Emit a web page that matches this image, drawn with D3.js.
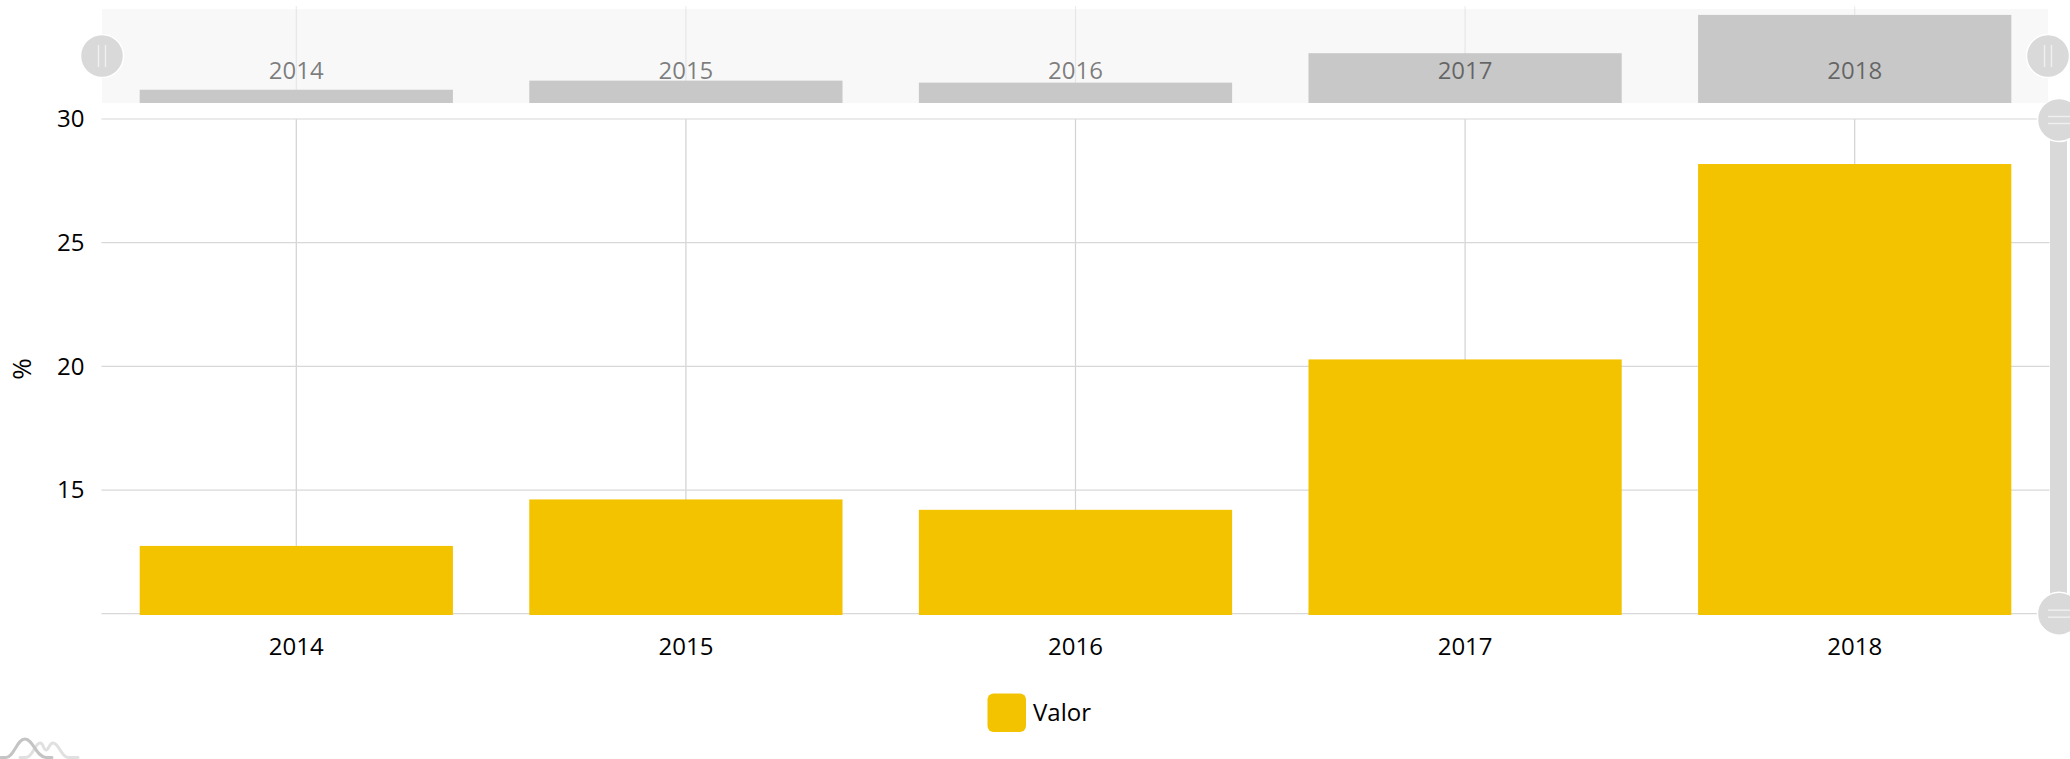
<!DOCTYPE html>
<html>
<head>
<meta charset="utf-8">
<script src="https://cdn.jsdelivr.net/npm/d3@7"></script>
<style>
  html, body { margin: 0; padding: 0; background: #fff; overflow: hidden; }
  text { font-family: "Open Sans", sans-serif; font-size: 24px; }
</style>
</head>
<body>
<div id="chart"></div>
<script>
// chart data
var years = ["2014", "2015", "2016", "2017", "2018"];
var valor = [12.74, 14.62, 14.2, 20.28, 28.18];
var yTicks = [15, 20, 25, 30];
var yLabel = "%";
var seriesName = "Valor";

var svgWidth = 2070;
var svgHeight = 759;

var plot = { left: 101.5, right: 2049.5, top: 119, bottom: 613.7 };
var mini = { top: 9, bottom: 103 };

var barColor = "#f4c300";
var gridColor = "#d8d8d8";
var handleColor = "#d9d9d9";

var svg = d3.select("#chart")
    .append("svg")
    .attr("width", svgWidth)
    .attr("height", svgHeight)
    .style("display", "block");

var x = d3.scaleBand()
    .domain(years)
    .range([plot.left, plot.right])
    .paddingInner(0.196)
    .paddingOuter(0.098);

var y = d3.scaleLinear()
    .domain([10, 30])
    .range([plot.bottom, plot.top]);

var yMini = d3.scaleLinear()
    .domain([10, 29.4])
    .range([mini.bottom, mini.top]);

function center(d) {
    return x(d) + x.bandwidth() / 2;
}

// gridlines
svg.append("g").selectAll("line")
    .data(years)
    .join("line")
    .attr("x1", center)
    .attr("x2", center)
    .attr("y1", plot.top)
    .attr("y2", plot.bottom)
    .attr("stroke", "#d2d2d2")
    .attr("stroke-width", 1.2);

svg.append("g").selectAll("line")
    .data(yTicks.concat([10]))
    .join("line")
    .attr("x1", plot.left)
    .attr("x2", plot.right)
    .attr("y1", function(d) { return y(d); })
    .attr("y2", function(d) { return y(d); })
    .attr("stroke", gridColor)
    .attr("stroke-width", 1.2);

// main bars
svg.append("g").selectAll("rect")
    .data(valor)
    .join("rect")
    .attr("x", function(d, i) { return x(years[i]); })
    .attr("y", function(d) { return y(d); })
    .attr("width", x.bandwidth())
    .attr("height", function(d) { return y(10) - y(d) + 1.3; })
    .attr("fill", barColor);

// axes
var xAxis = svg.append("g")
    .attr("transform", "translate(0," + plot.bottom + ")")
    .call(d3.axisBottom(x).tickSize(0).tickPadding(24));

var yAxis = svg.append("g")
    .attr("transform", "translate(" + plot.left + ",0)")
    .call(d3.axisLeft(y).tickValues(yTicks).tickSize(0).tickPadding(17));

[xAxis, yAxis].forEach(function(axis) {
    axis.select(".domain").remove();
    axis.attr("font-family", null).attr("font-size", null);
    axis.selectAll("text").attr("fill", "#000");
});

svg.append("text")
    .attr("transform", "translate(31,369) rotate(-90)")
    .attr("text-anchor", "middle")
    .attr("fill", "#000")
    .style("font-size", "26px")
    .text(yLabel);

// vertical scrollbar, goes under the horizontal one
svg.append("rect")
    .attr("x", 2050)
    .attr("y", plot.top)
    .attr("width", 17)
    .attr("height", plot.bottom - plot.top)
    .attr("fill", handleColor);

[plot.top + 1, plot.bottom].forEach(function(cy) {
    var h = svg.append("g").attr("transform", "translate(2059," + cy + ")");
    h.append("circle")
        .attr("r", 21.5)
        .attr("fill", handleColor)
        .attr("stroke", "#fff")
        .attr("stroke-width", 1.5);
    [-3.5, 3.5].forEach(function(dy) {
        h.append("line")
            .attr("x1", -11).attr("x2", 11)
            .attr("y1", dy).attr("y2", dy)
            .attr("stroke", "#f0f0f0")
            .attr("stroke-width", 1.4);
    });
});

// horizontal scrollbar
svg.append("rect")
    .attr("x", 102)
    .attr("y", mini.top)
    .attr("width", 1946)
    .attr("height", mini.bottom - mini.top)
    .attr("fill", "#f8f8f8");

svg.append("g").selectAll("line")
    .data(years)
    .join("line")
    .attr("x1", center)
    .attr("x2", center)
    .attr("y1", 6)
    .attr("y2", mini.bottom)
    .attr("stroke", "#000")
    .attr("stroke-opacity", 0.07)
    .attr("stroke-width", 1.2);

svg.append("g").selectAll("rect")
    .data(valor)
    .join("rect")
    .attr("x", function(d, i) { return x(years[i]); })
    .attr("y", function(d) { return yMini(d); })
    .attr("width", x.bandwidth())
    .attr("height", function(d) { return mini.bottom - yMini(d); })
    .attr("fill", "#c8c8c8");

svg.append("g").selectAll("text")
    .data(years)
    .join("text")
    .attr("x", center)
    .attr("y", 79)
    .attr("text-anchor", "middle")
    .attr("fill", "#000")
    .attr("fill-opacity", 0.5)
    .text(function(d) { return d; });

[102, 2048].forEach(function(cx) {
    var h = svg.append("g").attr("transform", "translate(" + cx + ",56)");
    h.append("circle")
        .attr("r", 21.5)
        .attr("fill", handleColor)
        .attr("stroke", "#fff")
        .attr("stroke-width", 1.5);
    [-3.5, 3.5].forEach(function(dx) {
        h.append("line")
            .attr("x1", dx).attr("x2", dx)
            .attr("y1", -11).attr("y2", 11)
            .attr("stroke", "#f0f0f0")
            .attr("stroke-width", 1.4);
    });
});

// legend
svg.append("rect")
    .attr("x", 987.5)
    .attr("y", 693.5)
    .attr("width", 38.5)
    .attr("height", 38.5)
    .attr("rx", 6)
    .attr("fill", barColor);

svg.append("text")
    .attr("x", 1033)
    .attr("y", 721)
    .attr("fill", "#000")
    .text(seriesName);

// little logo in the corner
var logo = svg.append("g")
    .attr("fill", "none")
    .attr("stroke-linecap", "round");

logo.append("path")
    .attr("d", "M20,757.5 H26 C33,757 35,743 40,743 C44,743 43,750 46,750 C49,750 49,743 53,743 C59,743 61,757 68,757.5 H78")
    .attr("stroke", "#e0e0e0")
    .attr("stroke-width", 3);

logo.append("path")
    .attr("d", "M1,757.5 H6 C14,757 17,739 25,739 C33,739 36,757 46,757.5 H52")
    .attr("stroke", "#c4c4c4")
    .attr("stroke-width", 3);
</script>
</body>
</html>
